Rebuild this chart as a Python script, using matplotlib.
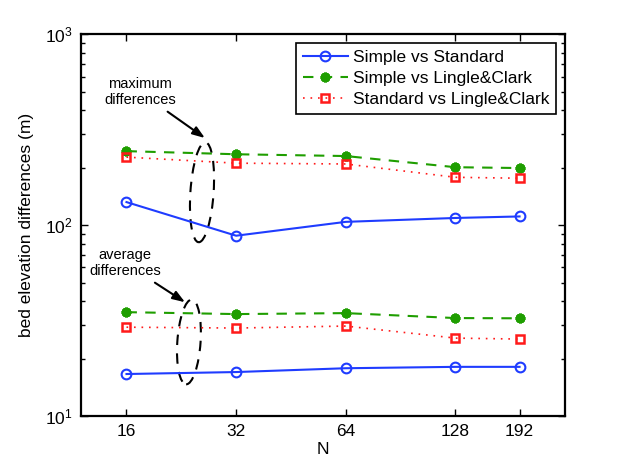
import matplotlib
matplotlib.use("Agg")
import matplotlib.pyplot as plt
from matplotlib.patches import Ellipse
from matplotlib.ticker import FixedLocator, NullLocator, FixedFormatter

plt.rcParams["font.family"] = ["Liberation Sans", "DejaVu Sans"]
plt.rcParams["mathtext.default"] = "regular"

# grid resolution N
n_vals = [16, 32, 64, 128, 192]
n_labels = ["16", "32", "64", "128", "192"]

# maximum differences (m)
max_simple_std = [132, 88, 104, 109, 111]
max_simple_lc = [244, 235, 230, 201, 199]
max_std_lc = [227, 211, 209, 178, 176]

# average differences (m)
avg_simple_std = [16.6, 17.0, 17.8, 18.1, 18.1]
avg_simple_lc = [35.0, 34.2, 34.6, 32.6, 32.5]
avg_std_lc = [29.2, 28.9, 29.6, 25.6, 25.3]

blue = "#1f3cff"
green = "#1f9e00"
red = "#ff1a1a"

fig = plt.figure(figsize=(6.23, 4.68), dpi=100)
ax = fig.add_axes([0.130, 0.111, 0.777, 0.816])

# styles for the three comparisons
s1 = dict(color=blue, ls="-", lw=1.5, marker="o", ms=7, mfc="none", mew=1.5)
s2 = dict(color=green, ls=(0, (5, 4)), lw=1.5, marker=(8, 2, 0), ms=7, mfc=green, mew=2.2)
s3 = dict(color=red, ls=(0, (1, 3.5)), lw=1.2, marker="s", ms=6, mfc="none", mew=1.8)

ax.plot(n_vals, max_simple_std, label="Simple vs Standard", **s1)
ax.plot(n_vals, max_simple_lc, label="Simple vs Lingle&Clark", **s2)
ax.plot(n_vals, max_std_lc, label="Standard vs Lingle&Clark", **s3)
ax.plot(n_vals, avg_simple_std, **s1)
ax.plot(n_vals, avg_simple_lc, **s2)
ax.plot(n_vals, avg_std_lc, **s3)

ax.set_xscale("log", base=2)
ax.set_yscale("log")
ax.set_xlim(12, 256)
ax.set_ylim(10, 1000)
ax.xaxis.set_major_locator(FixedLocator(n_vals))
ax.xaxis.set_major_formatter(FixedFormatter(n_labels))
ax.xaxis.set_minor_locator(NullLocator())

ax.tick_params(which="both", direction="in", top=True, right=True, labelsize=12.5)
ax.tick_params(which="major", length=5, width=1.0, pad=6)
ax.tick_params(which="minor", length=3, width=1.0)
for sp in ax.spines.values():
    sp.set_linewidth(1.6)

ax.set_xlabel("N", fontsize=12.5, labelpad=2)
ax.set_ylabel("bed elevation differences (m)", fontsize=12.5, labelpad=8)

leg = ax.legend(loc="upper right", fontsize=12.5, handlelength=2.6,
                labelspacing=0.35, fancybox=False, edgecolor="black",
                framealpha=1, borderpad=0.4, handletextpad=0.3)
leg.get_frame().set_linewidth(1.2)

# dashed ellipses grouping the maximum and average curves
for cx, cy, w, h in [(0.250, 0.586, 0.048, 0.262), (0.223, 0.194, 0.048, 0.222)]:
    ax.add_patch(Ellipse((cx, cy), w, h, angle=-3, transform=ax.transAxes,
                         fill=False, ec="black", lw=1.5, ls=(0, (5, 4))))

arrow = dict(arrowstyle="-|>,head_length=0.7,head_width=0.25", color="black",
             lw=1.5, shrinkA=2, shrinkB=0)
ax.annotate("maximum\ndifferences", xy=(0.256, 0.728), xytext=(0.122, 0.848),
            xycoords="axes fraction", textcoords="axes fraction",
            ha="center", va="center", fontsize=10.5, arrowprops=arrow)
ax.annotate("average\ndifferences", xy=(0.215, 0.298), xytext=(0.091, 0.40),
            xycoords="axes fraction", textcoords="axes fraction",
            ha="center", va="center", fontsize=10.5, arrowprops=arrow)

fig.savefig("out.png", dpi=100)
